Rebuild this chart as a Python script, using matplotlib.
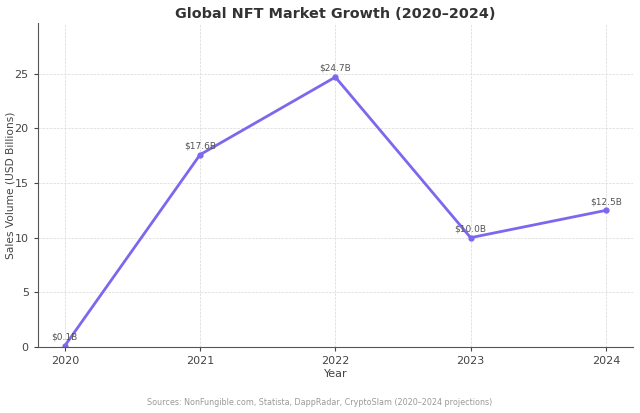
import matplotlib
matplotlib.use("Agg")
import matplotlib.pyplot as plt

# data
years = [2020, 2021, 2022, 2023, 2024]
sales = [0.1, 17.6, 24.7, 10.0, 12.5]
labels = ["$0.1B", "$17.6B", "$24.7B", "$10.0B", "$12.5B"]

line_color = "#7B68EE"
text_color = "#444444"

fig = plt.figure(figsize=(6.4, 4.13), dpi=100)
ax = fig.add_axes([0.059, 0.160, 0.930, 0.784])

ax.plot(years, sales, color=line_color, linewidth=2, marker="o", markersize=3.5)

for x, y, lab in zip(years, sales, labels):
    ax.annotate(lab, (x, y), xytext=(0, 3), textcoords="offset points",
                ha="center", va="bottom", fontsize=6.5, color="#555555")

ax.set_xlim(2019.8, 2024.2)
ax.set_ylim(0, max(sales) * 1.2)
ax.set_xticks(years)
ax.set_yticks([0, 5, 10, 15, 20, 25])

ax.set_title("Global NFT Market Growth (2020\u20132024)", fontsize=10.4, fontweight="bold",
             color="#333333", pad=4)
ax.set_xlabel("Year", fontsize=8, color=text_color, labelpad=2)
ax.set_ylabel("Sales Volume (USD Billions)", fontsize=7.7, color=text_color)
ax.yaxis.set_label_coords(-0.037, 0.5)

ax.tick_params(labelsize=8, colors=text_color, length=3)
ax.grid(True, linestyle="--", linewidth=0.5, color="#d8d8d8")
ax.set_axisbelow(True)
for side in ["top", "right"]:
    ax.spines[side].set_visible(False)
for side in ["left", "bottom"]:
    ax.spines[side].set_color("#555555")
    ax.spines[side].set_linewidth(0.8)

fig.text(0.5, 0.025, "Sources: NonFungible.com, Statista, DappRadar, CryptoSlam (2020\u20132024 projections)",
         ha="center", va="center", fontsize=5.8, color="#999999")

fig.savefig("out.png", dpi=100)
